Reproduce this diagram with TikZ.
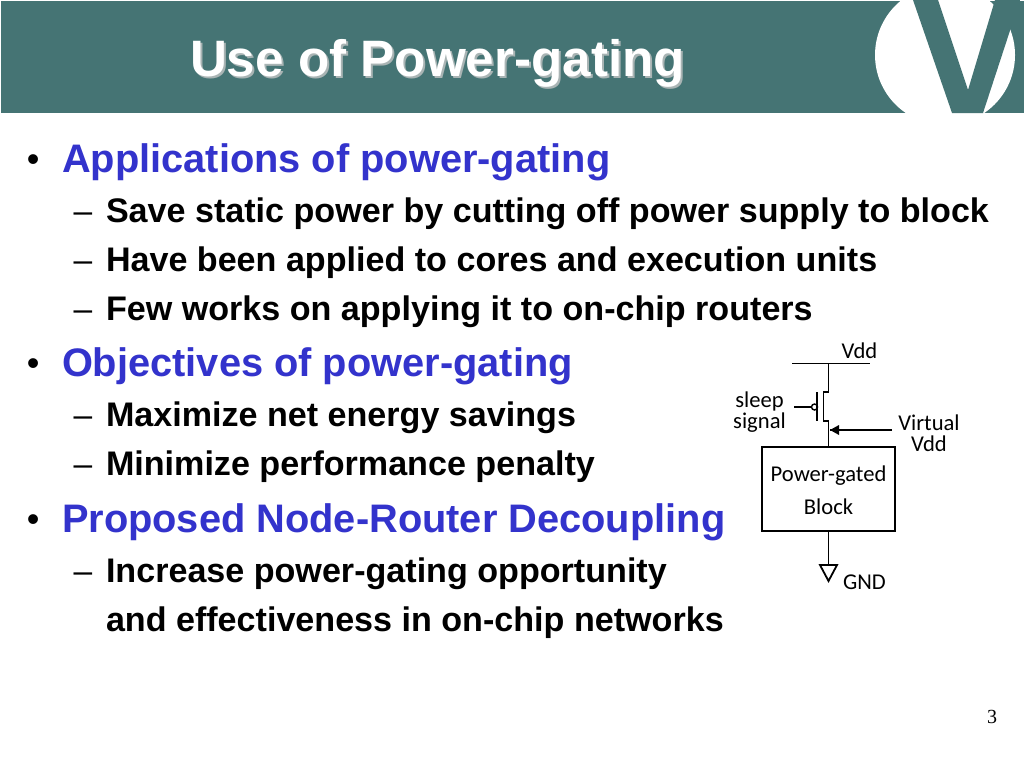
\documentclass[tikz,border=0pt]{standalone}
\usepackage{fontspec}
\setmainfont{Liberation Sans}
\newfontfamily\labelfont{Carlito}
\newfontfamily\numfont{Liberation Serif}
\definecolor{band}{HTML}{457474}
\definecolor{headblue}{HTML}{3333CC}
\definecolor{shadowgray}{HTML}{A9B4B4}
\tikzset{
  txt/.style={anchor=base west,inner sep=0pt,outer sep=0pt},
  head/.style={txt,text=headblue,font=\bfseries\fontsize{39.8}{39.8}\selectfont},
  sub/.style={txt,text=black,font=\bfseries\fontsize{34.1}{34.1}\selectfont},
  bul/.style={txt,text=black,font=\fontsize{36}{36}\selectfont},
  dsh/.style={txt,text=black,font=\fontsize{33.5}{33.5}\selectfont},
  lab/.style={anchor=base,inner sep=0pt,outer sep=0pt,text=black,font=\labelfont\fontsize{22.6}{22.6}\selectfont},
  wire/.style={draw=black,line width=1.8pt},
  title/.style={txt,font=\bfseries\fontsize{51.2}{51.2}\selectfont},
}
\begin{document}
\begin{tikzpicture}[x=1pt,y=-1pt]
\useasboundingbox (0,0) rectangle (1024,768);
\fill[white] (0,0) rectangle (1024,768);
\fill[band] (1,1) rectangle (1024,113);
\begin{scope}
\clip (1,1) rectangle (1024,113);
\fill[white] (945,55) circle[radius=70];
\fill[band] (913,0) -- (938,0) -- (968,90) -- (995,0) -- (1020,0) -- (983,113) -- (952,113) -- cycle;
\end{scope}
\node[title,text=shadowgray] (titleshadow) at (192,78) {Use of Power-gating};
\node[title,text=white] (titletext) at (190,76) {Use of Power-gating};

\foreach \n/\y in {b1/171,b2/375,b3/531}{\node[bul] (\n) at (27,\y) {•};}
\foreach \n/\y in {d1/222,d2/271,d3/320,d4/426,d5/475,d6/582}{\node[dsh] (\n) at (73.5,\y) {–};}

\node[head] (h1) at (62,172) {Applications of power-gating};
\node[sub] (s1) at (106,222) {Save static power by cutting off power supply to block};
\node[sub] (s2) at (106,271) {Have been applied to cores and execution units};
\node[sub] (s3) at (106,320) {Few works on applying it to on-chip routers};
\node[head] (h2) at (62,376) {Objectives of power-gating};
\node[sub] (s4) at (106,426) {Maximize net energy savings};
\node[sub] (s5) at (106,475) {Minimize performance penalty};
\node[head] (h3) at (62,532) {Proposed Node-Router Decoupling};
\node[sub] (s6) at (106,582) {Increase power-gating opportunity};
\node[sub] (s7) at (106,631) {and effectiveness in on-chip networks};

\node[draw=black,line width=1.8pt,minimum width=133pt,minimum height=84pt,inner sep=0pt] (blk) at (828.5,489) {};
\node[lab] (pg) at (828.5,481) {Power-gated};
\node[lab] (bk) at (828.5,514) {Block};
\node[lab] (vdd) at (859.5,358) {Vdd};
\node[lab] (sl) at (759.5,407) {sleep};
\node[lab] (sg) at (759.5,428) {signal};
\node[lab] (vv) at (929,430) {Virtual};
\node[lab] (vd) at (929,451) {Vdd};
\node[lab] (gnd) at (864.5,589) {GND};
\node[anchor=base,inner sep=0pt,font=\numfont\fontsize{20}{20}\selectfont] (pn) at (992,723) {3};

\coordinate (railL) at (792,363.5);
\coordinate (railR) at (870,363.5);
\coordinate (railM) at (828.5,363.5);
\coordinate (chT) at (828.5,392);
\coordinate (chB) at (828.5,421);
\coordinate (vvT) at (830,430);
\coordinate (vvS) at (892,430);
\coordinate (gIn) at (794,407);
\coordinate (gBarT) at (817,392);
\coordinate (gBarB) at (817,421);
\node[draw=black,line width=1.4pt,fill=white,circle,minimum size=6pt,inner sep=0pt] (bub) at (814.5,407) {};
\coordinate (gndTop) at (828.5,565);

\draw[wire] (railL) -- (railR);
\draw[wire] (railM) -- (chT) -- ++(-5,0) -- ++(0,29) -- (chB) -- (blk.north);
\draw[wire] (gBarT) -- (gBarB);
\draw[wire] (gIn) -- (bub.west);
\draw[wire,line width=2.2pt] (vvS) -- (vvT);
\fill[black] (vvT) -- ++(9,-5) -- ++(0,10) -- cycle;
\draw[wire] (blk.south) -- (gndTop);
\draw[wire,line join=miter] (gndTop) ++(-8.5,0) -- ++(17,0) -- ++(-8.5,16) -- cycle;
\end{tikzpicture}
\end{document}
